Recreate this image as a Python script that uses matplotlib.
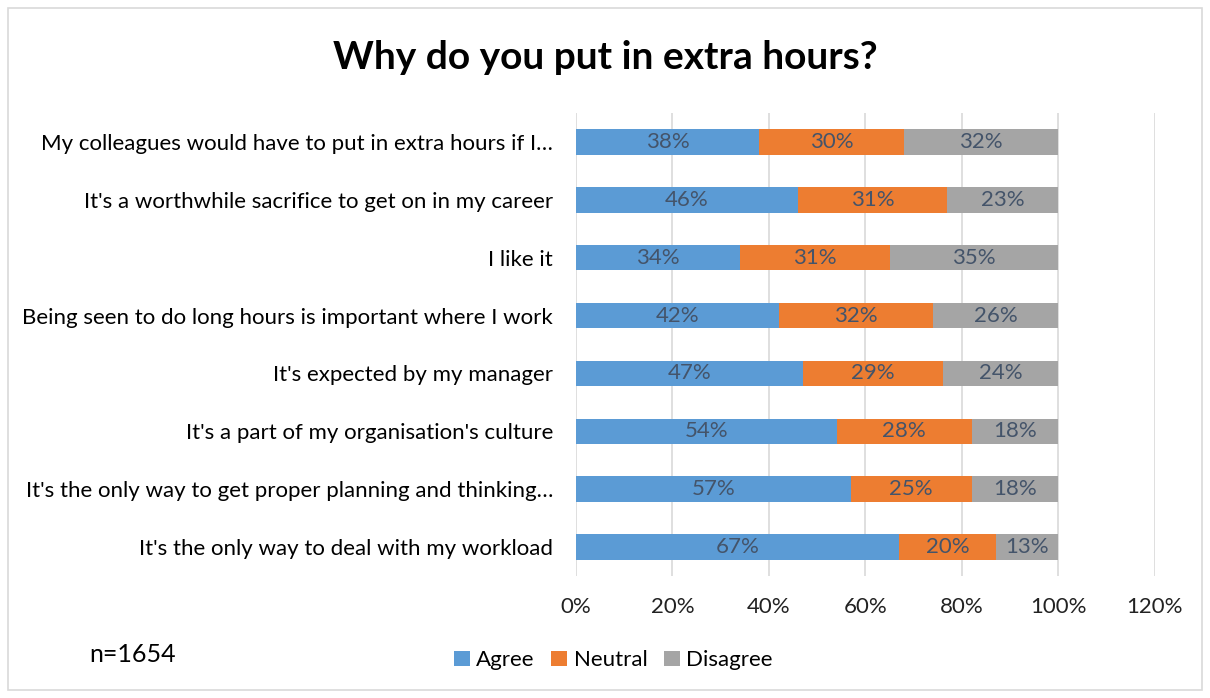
import matplotlib
matplotlib.use('Agg')
import matplotlib.pyplot as plt
from matplotlib.patches import Rectangle
import numpy as np

plt.rcParams['font.family'] = ['Lato', 'DejaVu Sans']

categories = [
    "My colleagues would have to put in extra hours if I\u2026",
    "It's a worthwhile sacrifice to get on in my career",
    "I like it",
    "Being seen to do long hours is important where I work",
    "It's expected by my manager",
    "It's a part of my organisation's culture",
    "It's the only way to get proper planning and thinking\u2026",
    "It's the only way to deal with my workload",
]
agree = [38, 46, 34, 42, 47, 54, 57, 67]
neutral = [30, 31, 31, 32, 29, 28, 25, 20]
disagree = [32, 23, 35, 26, 24, 18, 18, 13]
series_names = ['Agree', 'Neutral', 'Disagree']
colors = ['#5b9bd5', '#ed7d31', '#a5a5a5']
xticks = [0, 20, 40, 60, 80, 100, 120]

fig = plt.figure(figsize=(12.1, 6.98), dpi=100)
ax = fig.add_axes([0.476, 0.175, 0.4785, 0.663])

y = np.arange(len(categories))[::-1]
left = np.zeros(len(categories))
for vals, name, c in zip([agree, neutral, disagree], series_names, colors):
    vals = np.array(vals, dtype=float)
    bars = ax.barh(y, vals, left=left, height=0.44, color=c, label=name, zorder=3)
    for b, v in zip(bars, vals):
        ax.text(b.get_x() + b.get_width() / 2, b.get_y() + b.get_height() / 2,
                '%d%%' % v, ha='center', va='center', fontsize=16,
                color='#44546a', zorder=4)
    left += vals

ax.set_xlim(0, 120)
ax.set_ylim(-0.5, len(categories) - 0.5)
ax.set_xticks(xticks)
ax.set_xticklabels(['%d%%' % t for t in xticks], fontsize=16, color='#222222')
ax.set_yticks(y)
ax.set_yticklabels(categories, fontsize=16, color='#000000')
ax.tick_params(axis='both', length=0)
ax.tick_params(axis='y', pad=16.5)
ax.tick_params(axis='x', pad=15)
ax.grid(axis='x', color='#d9d9d9', linewidth=1.2, zorder=0)
for s in ax.spines.values():
    s.set_visible(False)

fig.text(0.5, 0.918, 'Why do you put in extra hours?', ha='center', va='center',
         fontsize=28, fontweight='bold')
fig.text(0.074, 0.063, 'n=1654', ha='left', va='center', fontsize=18)

fig.legend(loc='center', bbox_to_anchor=(0.507, 0.054), ncol=3, frameon=False,
           fontsize=16, handlelength=0.7, handleheight=0.7, handletextpad=0.3,
           columnspacing=0.75)

fig.patches.append(Rectangle((0.0066, 0.0115), 0.9868, 0.977, transform=fig.transFigure,
                             fill=False, edgecolor='#d9d9d9', linewidth=1.2))

fig.savefig('out.png', dpi=100)
